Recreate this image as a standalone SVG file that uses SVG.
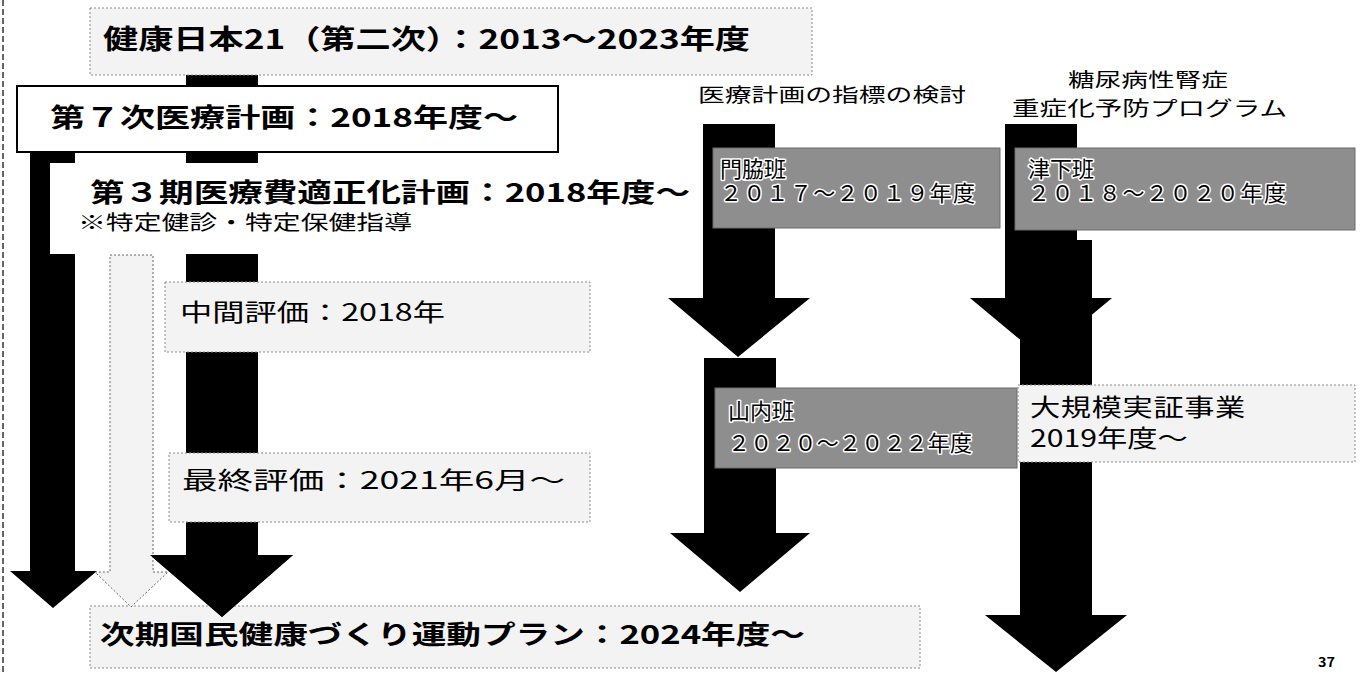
<svg xmlns="http://www.w3.org/2000/svg" width="1360" height="673" viewBox="0 0 1360 673">
<style>
.lt{fill:#f3f3f3;stroke:#8a8a8a;stroke-width:1;stroke-dasharray:2 2}
.dk{fill:#8e8e8e;stroke:#6a6a6a;stroke-width:1}
.arrow{fill:#000}
.larrow{fill:#f3f3f3;stroke:#666;stroke-width:1;stroke-dasharray:2 2}
.t{font-family:"Noto Sans CJK JP","Noto Sans",sans-serif;fill:#000}
.b{font-weight:bold}
.halo{stroke:#fff;stroke-width:3;paint-order:stroke;stroke-linejoin:round}
</style>
<rect width="1360" height="673" fill="#fff"/>
<line x1="3" y1="0" x2="3" y2="673" stroke="#333" stroke-width="1.5" stroke-dasharray="6 3"/>

<g id="node-next-plan">
<rect class="lt" x="90" y="606" width="830" height="62"/>
<text class="t b" x="100" y="644" font-size="26" textLength="705" lengthAdjust="spacingAndGlyphs">次期国民健康づくり運動プラン：2024年度～</text>
</g>

<g id="connectors">
<path class="arrow" d="M186,75 H258 V555 H293 L222,617 L150,555 H186 Z"/>
<path class="arrow" d="M30,152 H75 V571 H97 L53,608 L10,571 H30 Z"/>
<path class="larrow" d="M110,255 H153 V572 H168 L131,607 L95,572 H110 Z"/>
<path class="arrow" d="M150,555 H293 L222,617 Z"/>
<path class="arrow" d="M703,124 H775 V298 H810 L738,357 L668,298 H703 Z"/>
<path class="arrow" d="M704,358 H776 V533 H810 L740,592 L670,533 H704 Z"/>
<path class="arrow" d="M1005,124 H1077 V298 H1112 L1041,357 L970,298 H1005 Z"/>
<path class="arrow" d="M1020,240 H1092 V615 H1127 L1056,672 L985,615 H1020 Z"/>
</g>

<g id="node-kenko21">
<rect class="lt" x="90" y="8" width="722" height="67"/>
<text class="t b" x="103" y="49" font-size="27" textLength="647" lengthAdjust="spacingAndGlyphs">健康日本21（第二次）：2013～2023年度</text>
</g>

<g id="node-iryo7">
<rect x="17" y="86" width="541" height="66" fill="#fff" stroke="#000" stroke-width="2"/>
<text class="t b" x="50" y="127" font-size="26" textLength="468" lengthAdjust="spacingAndGlyphs">第７次医療計画：2018年度～</text>
</g>

<g id="node-tekiseika3">
<rect x="50" y="163" width="650" height="91" fill="#fff"/>
<text class="t b" x="90" y="202" font-size="26" textLength="600" lengthAdjust="spacingAndGlyphs">第３期医療費適正化計画：2018年度～</text>
<text class="t" x="78" y="230" font-size="20" textLength="334" lengthAdjust="spacingAndGlyphs">※特定健診・特定保健指導</text>
</g>

<g id="node-chukan">
<rect class="lt" x="165" y="282" width="425" height="70"/>
<text class="t" x="180" y="321" font-size="24" textLength="265" lengthAdjust="spacingAndGlyphs">中間評価：2018年</text>
</g>

<g id="node-saishu">
<rect class="lt" x="169" y="453" width="421" height="69"/>
<text class="t" x="182" y="489" font-size="24" textLength="383" lengthAdjust="spacingAndGlyphs">最終評価：2021年6月～</text>
</g>

<g id="label-shihyo">
<text class="t" x="698" y="102" font-size="19" textLength="268" lengthAdjust="spacingAndGlyphs">医療計画の指標の検討</text>
</g>

<g id="label-tonyo">
<text class="t" x="1068" y="87" font-size="19" textLength="160" lengthAdjust="spacingAndGlyphs">糖尿病性腎症</text>
<text class="t" x="1012" y="116" font-size="20" textLength="275" lengthAdjust="spacingAndGlyphs">重症化予防プログラム</text>
</g>

<g id="node-kadowaki">
<rect class="dk" x="713" y="148" width="287" height="80"/>
<text class="t halo" font-size="22"><tspan x="720" y="177">門脇班</tspan><tspan x="720" y="201" letter-spacing="1.3">２０１７～２０１９年度</tspan></text>
</g>

<g id="node-tsushita">
<rect class="dk" x="1015" y="148" width="340" height="82"/>
<text class="t halo" font-size="22"><tspan x="1028" y="177">津下班</tspan><tspan x="1028" y="201" letter-spacing="1.6">２０１８～２０２０年度</tspan></text>
</g>

<g id="node-yamauchi">
<rect class="dk" x="715" y="388" width="302" height="80"/>
<text class="t halo" font-size="22"><tspan x="728" y="419">山内班</tspan><tspan x="728" y="451" letter-spacing="0.2">２０２０～２０２２年度</tspan></text>
</g>

<g id="node-daikibo">
<rect class="lt" x="1018" y="385" width="337" height="77"/>
<text class="t" font-size="24" transform="translate(1030 0) scale(1.26 1)"><tspan x="0" y="416" letter-spacing="0.5">大規模実証事業</tspan><tspan x="0" y="447">2019年度～</tspan></text>
</g>

<g id="page-number">
<text class="t b" x="1318" y="667" font-size="13" textLength="17" lengthAdjust="spacingAndGlyphs">37</text>
</g>
</svg>
